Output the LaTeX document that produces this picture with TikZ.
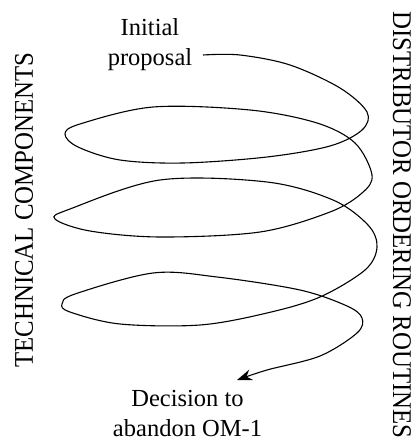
\documentclass[tikz,border=0pt]{standalone}
\usepackage{fontspec}
\setmainfont{Liberation Serif}
\usetikzlibrary{arrows.meta}
\tikzset{
  lbl/.style={inner sep=0pt, align=center, font=\fontsize{24.5}{30}\selectfont},
  side/.style={inner sep=0pt, font=\fontsize{27}{27}\selectfont},
  spiral/.style={line width=1.1pt, -{Stealth[length=15pt,width=11pt,inset=5pt]}}
}
\begin{document}
\begin{tikzpicture}[x=1pt,y=-1pt]
\useasboundingbox (0,0) rectangle (414,443);
\node[side, rotate=90] (tech) at (24,210) {\scalebox{0.92}[1]{TECHNICAL COMPONENTS}};
\node[side, rotate=-90] (dist) at (402,225) {\scalebox{0.92}[1]{DISTRIBUTOR ORDERING ROUTINES}};
\node[lbl] (init) at (150,44.3) {Initial\\proposal};
\node[lbl] (dec) at (187.5,413.9) {Decision to\\abandon OM-1};
\coordinate (start) at (203,55);
\coordinate (end) at (237,380);
\draw[spiral] plot[smooth, tension=0.55] coordinates {
 (start) (240,55) (290,65) (340,88) (367,112) (362,130) (330,146) (267,157)
 (183,163) (120,160) (78,147) (65,134) (80,124) (153,107) (250,110) (317,123)
 (355,143) (372,175) (362,193) (330,212) (260,232) (160,237) (90,231) (55,219)
 (70,209) (160,180) (267,182) (333,200) (368,225) (377,247) (365,270) (320,297)
 (267,313) (200,325) (120,324) (70,312) (62,304) (75,294) (153,273) (217,277)
 (300,290) (347,306) (362,318) (357,333) (320,356) (267,370) (end)};
\end{tikzpicture}
\end{document}
